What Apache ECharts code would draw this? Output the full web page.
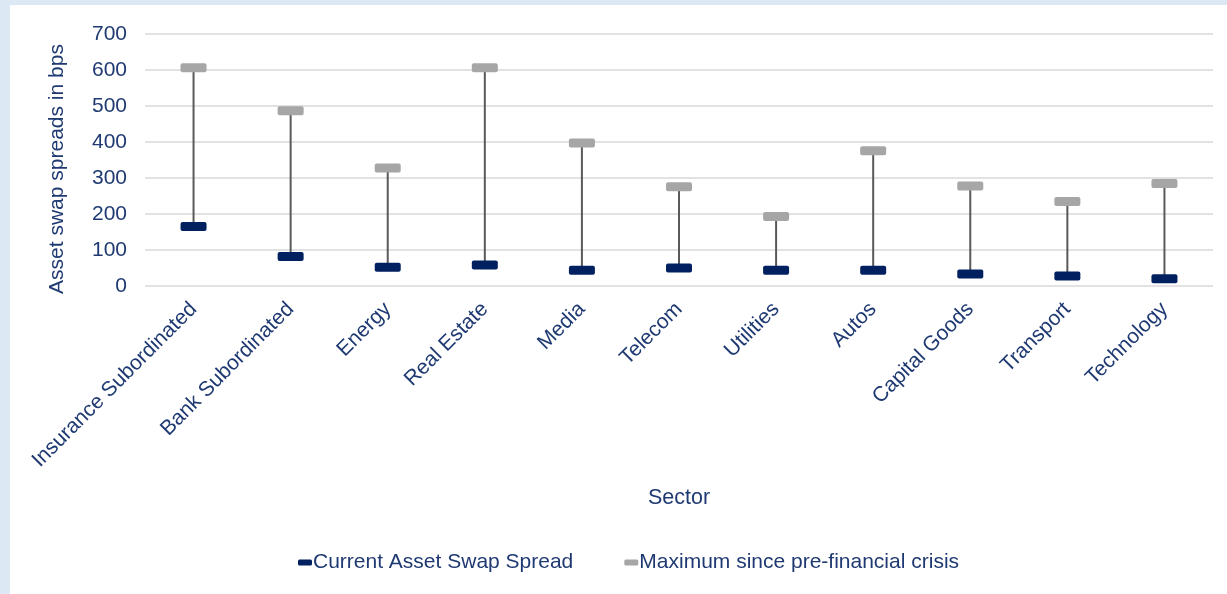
<!DOCTYPE html>
<html>
<head>
<meta charset="utf-8">
<script src="https://cdn.jsdelivr.net/npm/echarts@6/dist/echarts.min.js"></script>
<style>
  html, body { margin: 0; padding: 0; width: 1227px; height: 594px; background: #dde8f5; overflow: hidden; }
  #chart { position: absolute; left: 10px; top: 5px; width: 1217px; height: 589px; background: #ffffff; }
</style>
</head>
<body>
<div id="chart"></div>
<script>
const categories = ['Insurance Subordinated', 'Bank Subordinated', 'Energy', 'Real Estate', 'Media', 'Telecom', 'Utilities', 'Autos', 'Capital Goods', 'Transport', 'Technology'];
const currentSpread = [165, 82, 52, 58, 44, 50, 44, 44, 33, 28, 20];
const maxSpread = [606, 487, 328, 606, 397, 276, 193, 376, 278, 235, 285];
const yTicks = [0, 100, 200, 300, 400, 500, 600, 700];

const textColor = '#1F3A72';
const font = 'Liberation Sans, Arial, sans-serif';
const markerPath = 'path://M2,0 H24 Q26,0 26,2 V7 Q26,9 24,9 H2 Q0,9 0,7 V2 Q0,0 2,0 Z';

const whiskerData = categories.map((c, i) => [i, currentSpread[i], maxSpread[i]]);

const chart = echarts.init(document.getElementById('chart'), null, { renderer: 'canvas' });
chart.setOption({
  animation: false,
  backgroundColor: '#ffffff',
  textStyle: { fontFamily: font },
  grid: { left: 135, right: 14, top: 29, bottom: 308, containLabel: false },
  legend: {
    top: 542,
    left: 283,
    itemWidth: 14,
    itemHeight: 6,
    itemGap: 51,
    icon: 'roundRect',
    textStyle: { color: textColor, fontSize: 21, fontFamily: font, padding: [0, 0, 0, -4] },
    data: ['Current Asset Swap Spread', 'Maximum since pre-financial crisis']
  },
  xAxis: {
    type: 'category',
    data: categories,
    boundaryGap: true,
    name: 'Sector',
    nameLocation: 'middle',
    nameGap: 201,
    nameTextStyle: { color: textColor, fontSize: 21.5, fontFamily: font },
    axisLine: { show: false },
    axisTick: { show: false },
    axisLabel: { rotate: 45, color: textColor, fontSize: 21, fontFamily: font, margin: 20, interval: 0 }
  },
  yAxis: {
    type: 'value',
    min: yTicks[0],
    max: yTicks[yTicks.length - 1],
    interval: 100,
    name: 'Asset swap spreads in bps',
    nameLocation: 'middle',
    nameRotate: 90,
    nameGap: 77,
    nameTextStyle: { color: textColor, fontSize: 21, fontFamily: font, padding: [0, 18, 0, 0] },
    axisLine: { show: false },
    axisTick: { show: false },
    axisLabel: { color: textColor, fontSize: 21, fontFamily: font, margin: 18 },
    splitLine: { lineStyle: { color: '#d9d9d9', width: 1.5 } }
  },
  series: [
    {
      type: 'custom',
      name: 'whisker',
      data: whiskerData,
      encode: { x: 0, y: [1, 2] },
      silent: true,
      z: 1,
      renderItem: function (params, api) {
        const p1 = api.coord([api.value(0), api.value(1)]);
        const p2 = api.coord([api.value(0), api.value(2)]);
        return {
          type: 'line',
          shape: { x1: p1[0], y1: p1[1], x2: p2[0], y2: p2[1] },
          style: { stroke: '#595959', lineWidth: 2 }
        };
      }
    },
    {
      type: 'scatter',
      name: 'Current Asset Swap Spread',
      data: currentSpread,
      symbol: markerPath,
      symbolKeepAspect: false,
      symbolSize: [26, 9],
      itemStyle: { color: '#002060', opacity: 1 },
      z: 3
    },
    {
      type: 'scatter',
      name: 'Maximum since pre-financial crisis',
      data: maxSpread,
      symbol: markerPath,
      symbolKeepAspect: false,
      symbolSize: [26, 9],
      itemStyle: { color: '#a6a6a6', opacity: 1 },
      z: 2
    }
  ]
});
</script>
</body>
</html>
